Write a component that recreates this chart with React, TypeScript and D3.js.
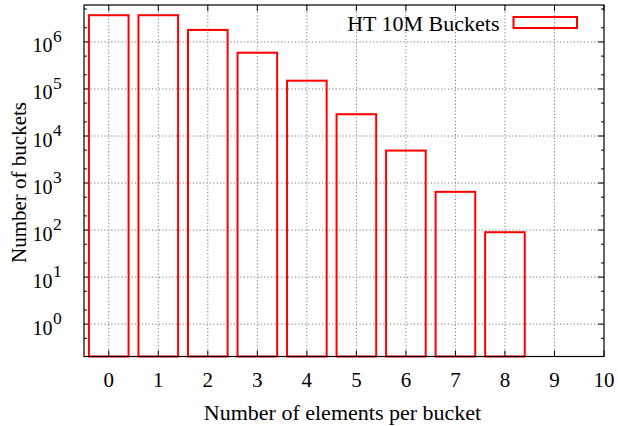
import React from "react";
import * as d3 from "d3";

const categories = [0, 1, 2, 3, 4, 5, 6, 7, 8];
const bucketCounts = [3700000, 3700000, 1800000, 590000, 150000, 29000, 4900, 650, 90];
const xTicks = [0, 1, 2, 3, 4, 5, 6, 7, 8, 9, 10];
const yTickExps = [0, 1, 2, 3, 4, 5, 6];
const seriesName = "HT 10M Buckets";

const W = 618, H = 426;
const L = 84, R = 604, T = 5, B = 356.5;
const FONT = "Liberation Serif, Times New Roman, DejaVu Serif, serif";

export default function App() {
  const x = d3.scaleLinear().domain([-0.5, 10]).range([L, R]);
  const y = d3.scaleLog().domain([0.205, 6.1e6]).range([B, T]);
  const bw = x(0.4) - x(-0.4);

  const minor: number[] = [];
  for (let e = -1; e <= 6; e++) {
    for (const m of [2, 5]) {
      const v = m * Math.pow(10, e);
      if (v > 0.205 && v < 6.1e6) minor.push(v);
    }
  }

  return (
    <svg width={W} height={H} style={{ position: "absolute", left: 0, top: 0, background: "#fff", fontFamily: FONT }}>
      <rect x={0} y={0} width={W} height={H} fill="#fff" />
      <g stroke="#777" strokeWidth={1} strokeDasharray="1.2,2.2">
        {xTicks.filter((t) => t < 10).map((t) => (
          <line key={"gx" + t} x1={x(t)} x2={x(t)} y1={T} y2={B} />
        ))}
        {yTickExps.map((e) => (
          <line key={"gy" + e} x1={L} x2={R} y1={y(Math.pow(10, e))} y2={y(Math.pow(10, e))} />
        ))}
      </g>
      <g stroke="#000" strokeWidth={1}>
        {xTicks.map((t) => (
          <g key={"tx" + t}>
            <line x1={x(t)} x2={x(t)} y1={B} y2={B - 6} />
            <line x1={x(t)} x2={x(t)} y1={T} y2={T + 6} />
          </g>
        ))}
        {yTickExps.map((e) => (
          <g key={"ty" + e}>
            <line x1={L} x2={L + 6} y1={y(Math.pow(10, e))} y2={y(Math.pow(10, e))} />
            <line x1={R} x2={R - 6} y1={y(Math.pow(10, e))} y2={y(Math.pow(10, e))} />
          </g>
        ))}
        {minor.map((v, i) => (
          <g key={"my" + i}>
            <line x1={L} x2={L + 3} y1={y(v)} y2={y(v)} />
            <line x1={R} x2={R - 3} y1={y(v)} y2={y(v)} />
          </g>
        ))}
      </g>
      <g fill="none" stroke="#ff0000" strokeWidth={2}>
        {categories.map((c, i) => (
          <rect key={"b" + c} x={x(c) - bw / 2} y={y(bucketCounts[i])} width={bw} height={B - y(bucketCounts[i])} />
        ))}
      </g>
      <rect x={L} y={T} width={R - L} height={B - T} fill="none" stroke="#000" strokeWidth={1.2} />
      <g style={{ fontSize: 21 }} textAnchor="middle" fill="#000">
        {xTicks.map((t) => (
          <text key={"lx" + t} x={x(t)} y={387}>{t}</text>
        ))}
      </g>
      <g fill="#000">
        {yTickExps.map((e) => {
          const yy = y(Math.pow(10, e));
          return (
            <g key={"ly" + e}>
              <text x={52.5} y={yy + 10.5} style={{ fontSize: 20 }} textAnchor="end">10</text>
              <text x={53} y={yy} style={{ fontSize: 17.5 }} textAnchor="start">{e}</text>
            </g>
          );
        })}
      </g>
      <text x={342.5} y={420} style={{ fontSize: 22 }} textAnchor="middle" fill="#000">Number of elements per bucket</text>
      <text transform={`translate(26,182.5) rotate(-90)`} style={{ fontSize: 21 }} textAnchor="middle" fill="#000">Number of buckets</text>
      <text x={499.5} y={30.5} style={{ fontSize: 22 }} textAnchor="end" fill="#000">{seriesName}</text>
      <rect x={513.5} y={17} width={63.5} height={11} fill="none" stroke="#ff0000" strokeWidth={2} />
    </svg>
  );
}
